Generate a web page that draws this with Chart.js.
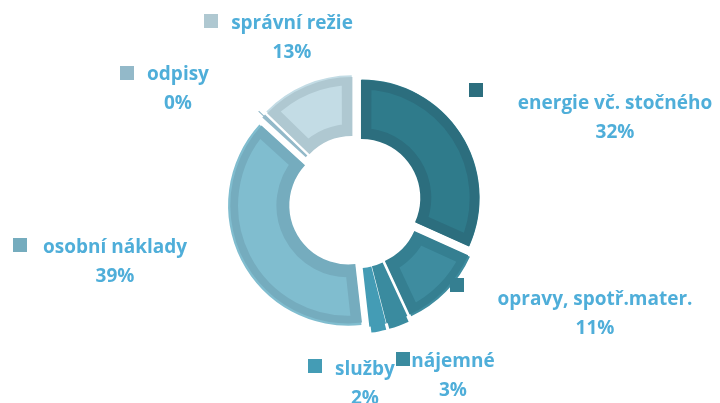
<!DOCTYPE html>
<html>
<head>
<meta charset="utf-8">
<script src="https://cdn.jsdelivr.net/npm/chart.js@4/dist/chart.umd.min.js"></script>
<style>
  html, body { margin: 0; padding: 0; background: #fff; }
  #wrap { width: 720px; height: 403px; }
</style>
</head>
<body>
<div id="wrap"><canvas id="costChart"></canvas></div>
<script>
const categories = ['energie vč. stočného', 'opravy, spotř.mater.', 'nájemné', 'služby', 'osobní náklady', 'odpisy', 'správní režie'];
const values = [31.7, 11.4, 2.9, 2.2, 38.6, 0.45, 12.75];

const fillColors = ['#2f7b8b', '#3e8c9f', '#3a8b9f', '#449cb5', '#80bdcf', '#93b9c9', '#c3dce5'];
const borderColors = ['#2c6e7e', '#357f91', '#3a8b9f', '#449cb5', '#75acbe', '#93b9c9', '#afc8d1'];
const textColor = '#4faed9';

// where each label sits: text centre x, first-line baseline y, marker top-left
const labelSpots = [
    { x: 615, y: 109, mx: 469, my: 83 },
    { x: 595, y: 305, mx: 450, my: 278 },
    { x: 453, y: 367, mx: 396, my: 352 },
    { x: 365, y: 375, mx: 308, my: 359 },
    { x: 115, y: 253, mx: 13, my: 238 },
    { x: 178, y: 80, mx: 120, my: 66 },
    { x: 292, y: 29, mx: 204, my: 14 }
];

const total = values.reduce((a, b) => a + b, 0);
const pctLabels = values.map(v => Math.round(v / total * 100) + '%');

const sliceLabels = {
    id: 'sliceLabels',
    afterDraw(chart) {
        const ctx = chart.ctx;
        ctx.save();
        ctx.font = 'bold 19px "Open Sans"';
        ctx.textAlign = 'center';
        ctx.textBaseline = 'alphabetic';
        categories.forEach((name, i) => {
            const s = labelSpots[i];
            ctx.fillStyle = borderColors[i];
            ctx.fillRect(s.mx, s.my, 14, 14);
            ctx.fillStyle = textColor;
            ctx.fillText(name, s.x, s.y);
            ctx.fillText(pctLabels[i], s.x, s.y + 29);
        });
        ctx.restore();
    }
};

new Chart(document.getElementById('costChart'), {
    type: 'doughnut',
    data: {
        labels: categories,
        datasets: [{
            data: values,
            backgroundColor: fillColors,
            borderColor: borderColors,
            borderWidth: 10,
            borderAlign: 'inner',
            borderJoinStyle: 'miter',
            offset: 30,   // chart.js moves the arc by offset/4
            hoverOffset: 30
        }]
    },
    options: {
        responsive: true,
        maintainAspectRatio: false,
        animation: false,
        radius: 118,
        cutout: '50%',
        layout: { padding: { left: 0, right: 10, top: 1, bottom: 0 } },
        plugins: {
            legend: { display: false },
            tooltip: { enabled: false }
        }
    },
    plugins: [sliceLabels]
});
</script>
</body>
</html>
